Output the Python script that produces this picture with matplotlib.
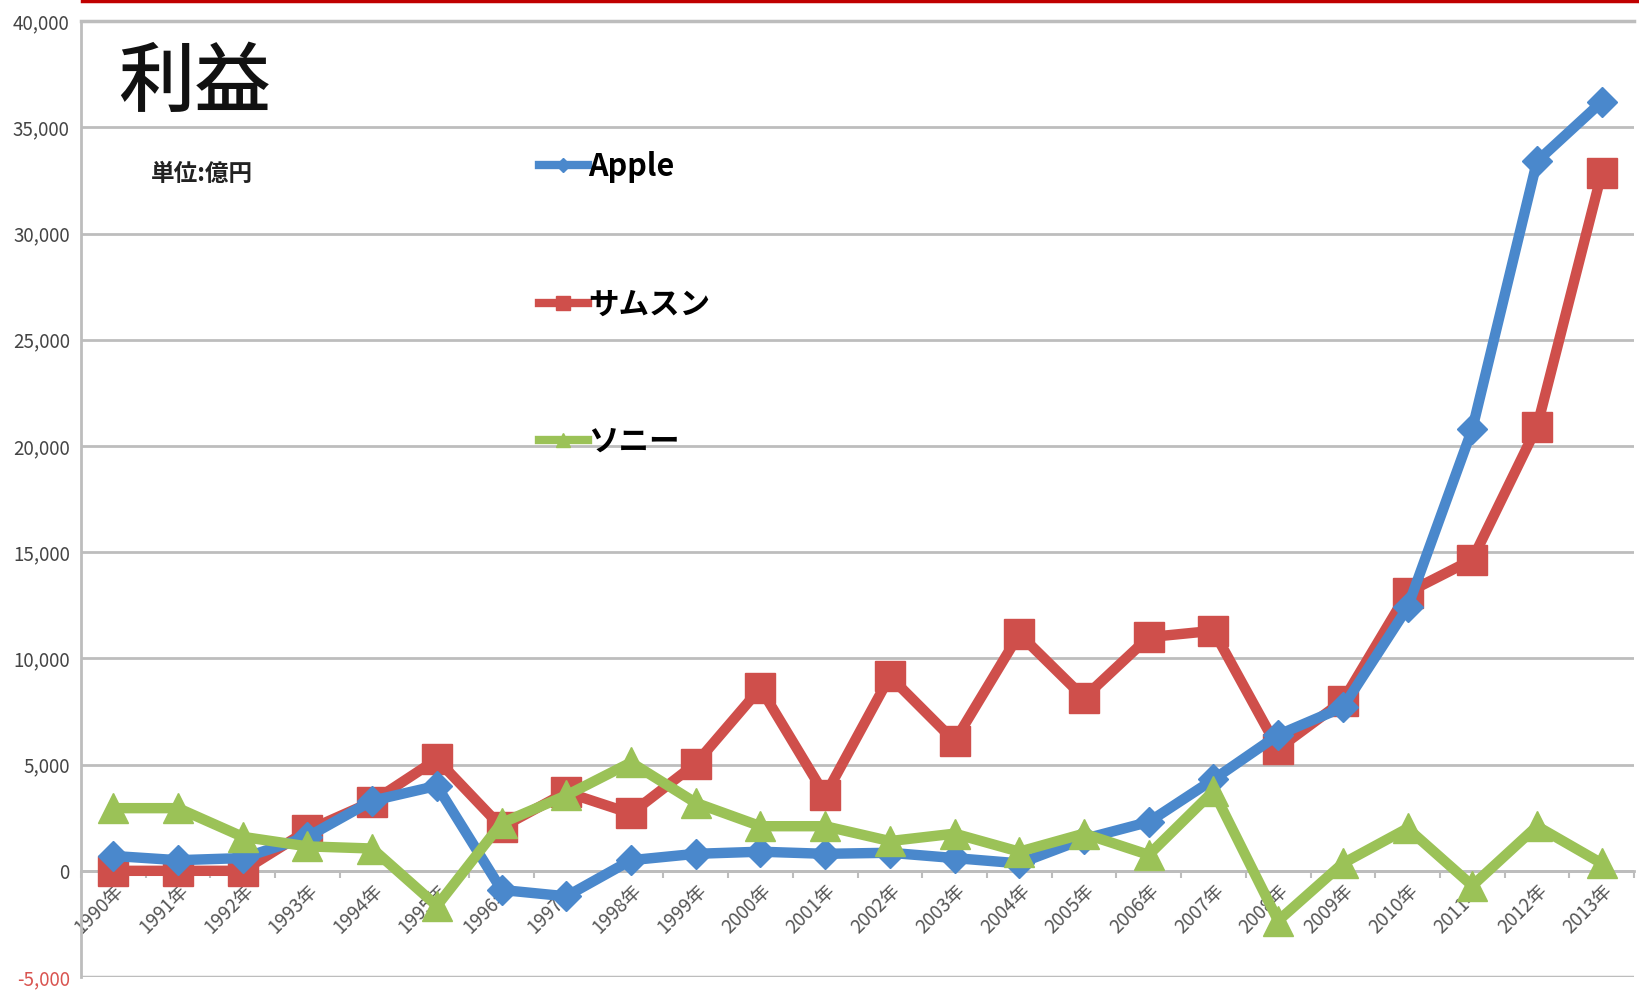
import matplotlib
matplotlib.use("Agg")
import matplotlib.pyplot as plt
from matplotlib.lines import Line2D
from matplotlib.ticker import FuncFormatter, FixedLocator
import numpy as np

plt.rcParams['font.family'] = ['Noto Sans CJK JP', 'DejaVu Sans']

years = [f"{y}年" for y in range(1990, 2014)]
apple = [700, 500, 600, 1600, 3300, 4000, -900, -1200, 500, 800, 900, 800,
         850, 600, 350, 1500, 2300, 4300, 6400, 7700, 12400, 20800, 33400, 36200]
samsung = [0, 0, 0, 1900, 3250, 5250, 2050, 3700, 2700, 5050, 8600, 3550,
           9150, 6100, 11150, 8150, 11000, 11300, 5750, 8000, 13100, 14650, 20900, 32850]
sony = [2950, 2950, 1600, 1150, 1050, -1650, 2250, 3550, 5100, 3200, 2100, 2100,
        1400, 1750, 900, 1750, 750, 3750, -2350, 350, 2000, -700, 2100, 350]
series_names = ["Apple", "サムスン", "ソニー"]
colors = ["#4A88CC", "#CF4F4B", "#9BC257"]

fig = plt.figure(figsize=(16.39, 10.06), dpi=100)
ax = fig.add_axes([0.0494, 0.0288, 0.9476, 0.9502])

x = np.arange(len(years))
ax.plot(x, apple, color=colors[0], lw=7.5, marker='D', ms=15, label=series_names[0], zorder=5)
ax.plot(x, samsung, color=colors[1], lw=7.5, marker='s', ms=22, label=series_names[1], zorder=4)
ax.plot(x, sony, color=colors[2], lw=7.5, marker='^', ms=22, label=series_names[2], zorder=6)

ax.set_xlim(-0.5, len(years) - 0.5)
ax.set_ylim(-5000, 40000)
ax.set_yticks(np.arange(-5000, 40001, 5000))
ax.yaxis.set_major_formatter(FuncFormatter(lambda v, p: f"{int(v):,}"))
ax.grid(axis='y', color='#BDBDBD', lw=2)
ax.set_axisbelow(True)

for s in ['top', 'right']:
    ax.spines[s].set_visible(False)
ax.spines['left'].set_color('#BDBDBD')
ax.spines['left'].set_linewidth(2)
ax.spines['bottom'].set_position(('data', 0))
ax.spines['bottom'].set_color('#BDBDBD')
ax.spines['bottom'].set_linewidth(2)

ax.set_xticks(x)
ax.set_xticklabels(years, rotation=45, ha='right', rotation_mode='anchor',
                   fontsize=13.5, color='#555555')
ax.xaxis.set_minor_locator(FixedLocator(np.arange(-0.5, len(years), 1)))
ax.tick_params(axis='x', which='major', length=0, pad=7)
ax.tick_params(axis='x', which='minor', length=5, width=1.5, color='#BDBDBD', direction='out')
ax.tick_params(axis='y', length=0, labelsize=13.5, labelcolor='#444444', pad=8)
fig.canvas.draw()
for lab, v in zip(ax.get_yticklabels(), ax.get_yticks()):
    if v < 0:
        lab.set_color('#D9534F')

ax.axhline(-5000, color='#BDBDBD', lw=2.5, zorder=0)
ax.axhline(40000, color='#BDBDBD', lw=2.5, zorder=0, clip_on=False)

ax.text(0.024, 0.975, "利益", transform=ax.transAxes, fontsize=55,
        va='top', ha='left', color='#111111', fontweight='medium')
ax.text(0.045, 0.84, "単位:億円", transform=ax.transAxes, fontsize=17,
        va='center', ha='left', color='#222222', fontweight='bold')

leg = ax.legend(loc='upper left', bbox_to_anchor=(0.285, 0.88), frameon=False,
                prop={'size': 22, 'weight': 'bold'}, handlelength=1.6, handletextpad=0.0,
                labelspacing=3.45, markerscale=0.45, borderpad=0)
for h in leg.get_lines():
    h.set_linewidth(6)

fig.add_artist(Line2D([0.05, 1.0], [0.999, 0.999], color='#C00000', lw=2.5,
                      transform=fig.transFigure))

fig.savefig("out.png", dpi=100)
